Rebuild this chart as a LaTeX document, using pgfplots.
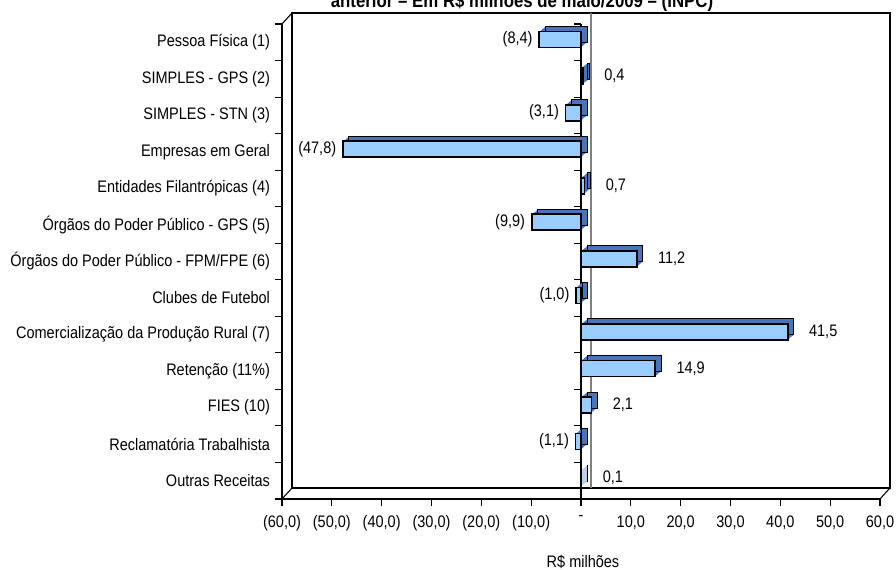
\documentclass[border=0pt]{standalone}
\usepackage{pgfplots}
\pgfplotsset{compat=1.18}
\usepackage{pgfplotstable}
\usepackage{fontspec}
\setmainfont{Liberation Sans}[FakeStretch=0.87]
\definecolor{barfill}{RGB}{153,204,255}
\definecolor{barside}{RGB}{75,115,185}
\definecolor{zerogrey}{RGB}{128,128,128}

% negative values (label shown in parentheses)
\pgfplotstableread{
idx val lab
0 -8.4 (8,4)
2 -3.1 (3,1)
3 -47.8 (47,8)
5 -9.9 (9,9)
7 -1.0 (1,0)
11 -1.1 (1,1)
}\negdata
% positive values
\pgfplotstableread{
idx val lab
1 0.4 0,4
4 0.7 0,7
6 11.2 11,2
8 41.5 41,5
9 14.9 14,9
10 2.1 2,1
12 0.1 0,1
}\posdata

\begin{document}
\begin{tikzpicture}
\clip (0,0) rectangle (672pt,427.5pt);
\node[overlay, anchor=base, font=\bfseries\fontsize{14.5}{16}\selectfont] at (391.5pt,421.5pt) {anterior – Em R\$ milhões de maio/2009 – (INPC)};
\begin{axis}[
  at={(211.5pt,53.25pt)}, anchor=south west,
  scale only axis, width=448.5pt, height=356.25pt,
  xmin=-60, xmax=60, ymin=-0.5, ymax=12.5, y dir=reverse,
  axis x line*=bottom, axis y line*=left,
  axis line style={black, line width=0.8pt, -},
  clip=false,
  tick align=outside, major tick length=5.5pt,
  tick style={black, line width=0.8pt},
  xtick={-60,-50,...,60},
  xticklabels={{(60,0)},{(50,0)},{(40,0)},{(30,0)},{(20,0)},{(10,0)},{-},{10,0},{20,0},{30,0},{40,0},{50,0},{60,0}},
  ytick={-0.5,0.5,...,12.5},
  yticklabels={Pessoa Física (1),SIMPLES - GPS (2),SIMPLES - STN (3),Empresas em Geral,Entidades Filantrópicas (4),Órgãos do Poder Público - GPS (5),Órgãos do Poder Público - FPM/FPE (6),Clubes de Futebol,Comercialização da Produção Rural (7),Retenção (11\%),FIES (10),Reclamatória Trabalhista,Outras Receitas,{}},
  yticklabel style={yshift=-13.7pt, font=\fontsize{12.5}{14}\selectfont},
  xticklabel style={yshift=-3.5pt, font=\fontsize{12.5}{14}\selectfont},
  point meta=explicit symbolic,
  nodes near coords style={font=\fontsize{12.5}{14}\selectfont, text=black},
]
% back wall
\draw[black, line width=0.8pt] ([shift={(7.5pt,8.25pt)}]axis cs:-60,12.5) rectangle ([shift={(7.5pt,8.25pt)}]axis cs:60,-0.5);
% grey zero line on back wall
\draw[zerogrey, line width=1pt] ([shift={(7.5pt,8.25pt)}]axis cs:0,12.5) -- ([shift={(7.5pt,8.25pt)}]axis cs:0,-0.5);
% floor and left wall edges
\draw[black, line width=0.8pt] (axis cs:-60,12.5) -- ([shift={(7.5pt,8.25pt)}]axis cs:-60,12.5);
\draw[black, line width=0.8pt] (axis cs:60,12.5) -- ([shift={(7.5pt,8.25pt)}]axis cs:60,12.5);
\draw[black, line width=0.8pt] (axis cs:-60,-0.5) -- ([shift={(7.5pt,8.25pt)}]axis cs:-60,-0.5);
% front zero line with its ticks
\draw[black, line width=0.9pt] (axis cs:0,-0.5) -- (axis cs:0,12.5);
\pgfplotsinvokeforeach{-0.5,0.5,1.5,2.5,3.5,4.5,5.5,6.5,7.5,8.5,9.5,10.5,11.5}{
  \draw[black, line width=0.8pt] (axis cs:0,#1) -- ++(-5.25pt,0pt);
}
% 3-D extrusion of the bars
\pgfplotsinvokeforeach{6,5,4,3,2,1}{
  \addplot[xbar, bar width=12pt, bar shift=0pt, fill=barside, draw=none, xshift=#1*0.75pt, yshift=2pt+#1*0.62pt] table[x=val, y=idx, meta=lab] {\negdata};
  \addplot[xbar, bar width=12pt, bar shift=0pt, fill=barside, draw=none, xshift=#1*0.75pt, yshift=2pt+#1*0.62pt] table[x=val, y=idx, meta=lab] {\posdata};
}
\addplot[xbar, bar width=12pt, bar shift=0pt, fill=none, draw=black, line width=0.7pt, xshift=4.5pt, yshift=5.72pt] table[x=val, y=idx, meta=lab] {\negdata};
\addplot[xbar, bar width=12pt, bar shift=0pt, fill=none, draw=black, line width=0.7pt, xshift=4.5pt, yshift=5.72pt] table[x=val, y=idx, meta=lab] {\posdata};
% front faces with labels
\addplot[xbar, bar width=12pt, bar shift=0pt, fill=barfill, draw=black, line width=1.3pt, yshift=2pt,
  nodes near coords, nodes near coords style={anchor=east, xshift=-1pt}] table[x=val, y=idx, meta=lab] {\negdata};
\addplot[xbar, bar width=12pt, bar shift=0pt, fill=barfill, draw=black, line width=1.3pt, yshift=2pt,
  nodes near coords, nodes near coords style={anchor=west, xshift=12pt}] table[x=val, y=idx, meta=lab] {\posdata};
\end{axis}
\node[font=\fontsize{12.5}{14}\selectfont] at (437.25pt,6pt) {R\$ milhões};
\end{tikzpicture}
\end{document}
